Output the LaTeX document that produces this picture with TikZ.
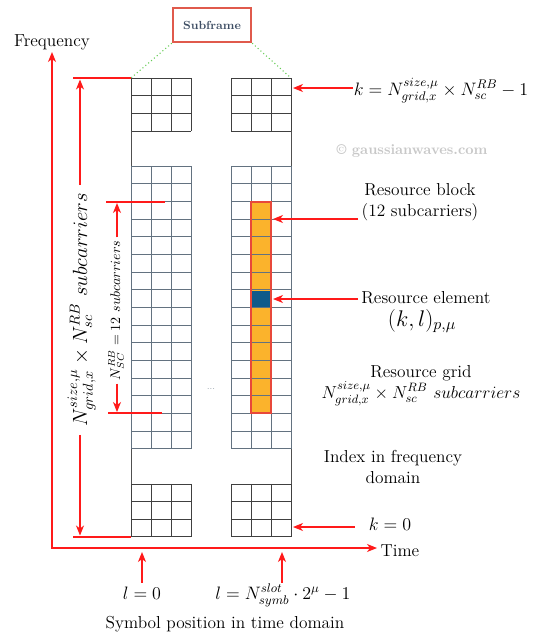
\RequirePackage{fix-cm}
\documentclass[tikz,border=0pt]{standalone}
\usepackage{amsmath}
\usetikzlibrary{arrows.meta}
\definecolor{gridA}{HTML}{404040}
\definecolor{gridB}{HTML}{637280}
\definecolor{gapc}{HTML}{505050}
\definecolor{redc}{HTML}{FF1A1A}
\definecolor{orangeRB}{HTML}{FBB32C}
\definecolor{redRB}{HTML}{E8483A}
\definecolor{blueRE}{HTML}{0F5A8A}
\definecolor{sfred}{HTML}{E05A4C}
\definecolor{sftext}{HTML}{3E4E64}
\definecolor{greendot}{HTML}{66CC55}
\definecolor{wm}{HTML}{C8C8C8}
\begin{document}
\begin{tikzpicture}[x=0.75pt,y=-0.75pt,
  txt/.style={font=\fontsize{13}{15.75}\selectfont, inner sep=1pt},
  mth/.style={font=\fontsize{13.5}{16}\selectfont, inner sep=0.5pt},
  redline/.style={draw=redc, line width=0.9pt},
  redarr/.style={draw=redc, line width=0.9pt, -{Stealth[length=7.5pt,width=6pt,inset=2.2pt]}},
  gapline/.style={draw=gapc, line width=0.7pt},
]
\fill[white] (0,0) rectangle (536,636);
\useasboundingbox (0,0) rectangle (536,636);

% ---------- resource block fill ----------
\fill[orangeRB] (251,{78+7*17.65}) rectangle (271,{78+19*17.65});

% ---------- grids ----------
\foreach \x in {131,231}{
  \foreach \r/\n/\s in {0/3/gridA, 5/16/gridB, 23/3/gridA}{
    \foreach \i in {0,...,\n}
      \draw[draw=\s, line width=0.65pt] (\x,{78+(\r+\i)*17.65}) -- ({\x+60},{78+(\r+\i)*17.65});
    \foreach \j in {0,1,2,3}
      \draw[draw=\s, line width=0.65pt] ({\x+20*\j},{78+\r*17.65}) -- ({\x+20*\j},{78+(\r+\n)*17.65});
  }
}
\foreach \x in {131,291}{
  \draw[gapline] (\x,{78+3*17.65}) -- (\x,{78+5*17.65});
  \draw[gapline] (\x,{78+21*17.65}) -- (\x,{78+23*17.65});
}
% resource element and block border
\fill[blueRE] (251.8,{78+12*17.65+0.8}) rectangle (270.2,{78+13*17.65-0.8});
\draw[draw=redRB, line width=1.5pt] (251,{78+7*17.65}) rectangle (271,{78+19*17.65});
\node[font=\fontsize{6.5}{7}\selectfont, text=gridB, inner sep=0pt] (dots) at (211,389) {...};

% ---------- subframe ----------
\node[draw=sfred, line width=1.8pt, fill=white, minimum width=58.5pt, minimum height=25.5pt,
      text=sftext, font=\bfseries\fontsize{8.8}{10}\selectfont] (sf) at (212,25) {Subframe};
\coordinate (gl) at (131,78);
\coordinate (gr) at (291,78);
\draw[greendot, dotted, line width=0.8pt] (sf.south west) -- (gl);
\draw[greendot, dotted, line width=0.8pt] (sf.south east) -- (gr);

% ---------- axes ----------
\coordinate (O) at (52,548);
\coordinate (ftop) at (52,52);
\coordinate (tend) at (377,548);
\draw[draw=redc, line width=0.9pt, {Stealth[length=7.5pt,width=6pt,inset=2.2pt]}-{Stealth[length=7.5pt,width=6pt,inset=2.2pt]}] (ftop) -- (O) -- (tend);
\node[txt, anchor=base] (freq) at (52,46.5) {Frequency};
\node[txt, anchor=base west] (time) at (379,556) {Time};

% ---------- left dimension ----------
\coordinate (d1a) at (73,78);
\coordinate (d1b) at (73,537);
\coordinate (d1c) at (131,537);
\draw[redline] (d1a) -- (gl);
\draw[redline] (d1b) -- (d1c);
\coordinate (bt) at (80,79.5);
\coordinate (bb) at (80,535.5);
\node[rotate=90, anchor=base, font=\fontsize{15.4}{18}\selectfont, inner sep=6pt] (bigl) at (87,310)
  {$N^{size,\mu}_{grid,x}\times N^{RB}_{sc}\ subcarriers$};
\draw[redarr] (bt |- bigl.east) -- (bt);
\draw[redarr] (bb |- bigl.west) -- (bb);

% ---------- inner dimension ----------
\coordinate (d2a) at (106,202);
\coordinate (d2ae) at (165,202);
\coordinate (d2b) at (108,413);
\coordinate (d2be) at (162,413);
\draw[redline] (d2a) -- (d2ae);
\draw[redline] (d2b) -- (d2be);
\coordinate (st) at (117,203);
\coordinate (sb) at (117,412);
\node[rotate=90, anchor=base, font=\fontsize{10.5}{12}\selectfont, inner sep=2pt] (smal) at (120,310.5)
  {$N^{RB}_{SC}=12\ subcarriers$};
\draw[redarr] (st |- smal.east) -- (st);
\draw[redarr] (sb |- smal.west) -- (sb);

% ---------- top index ----------
\coordinate (kt) at (293,88);
\node[mth, anchor=base west] (ktop) at (353,95) {$k=N^{size,\mu}_{grid,x}\times N^{RB}_{sc}-1$};
\draw[redarr] (ktop.west |- kt) -- (kt);

% ---------- watermark ----------
\node[font=\bfseries\fontsize{10.8}{12}\selectfont, text=wm, anchor=base, inner sep=0.5pt] (wmk) at (412,154) {© gaussianwaves.com};

% ---------- resource block ----------
\coordinate (rbt) at (273,219);
\node[txt, align=center, anchor=base] (rb) at (420,216) {Resource block\\(12 subcarriers)};
\draw[redarr, shorten <=1.5pt] (rb.west |- rbt) -- (rbt);

% ---------- resource element ----------
\coordinate (ret) at (273,299);
\node[txt, anchor=base] (re) at (426,303) {Resource element};
\node[font=\fontsize{17}{20}\selectfont, anchor=base, inner sep=0.5pt] (kl) at (422,326) {$(k,l)_{p,\mu}$};
\draw[redarr, shorten <=1.5pt] (re.west |- ret) -- (ret);

% ---------- resource grid ----------
\node[txt, anchor=base] (rg) at (421,377) {Resource grid};
\node[txt, anchor=base, inner sep=0pt] (rgf) at (421,398) {$N^{size,\mu}_{grid,x}\times N^{RB}_{sc}\ subcarriers$};

% ---------- index in frequency domain ----------
\node[txt, align=center, anchor=base] (idx) at (393,483.5) {Index in frequency\\domain};
\node[mth, anchor=base] (k0) at (390,530) {$k=0$};
\coordinate (k0t) at (293,527);
\draw[redarr, shorten <=10pt] (k0.west |- k0t) -- (k0t);

% ---------- time indices ----------
\node[mth, anchor=base] (l0) at (142,599) {$l=0$};
\node[mth, anchor=base] (lN) at (283,599) {$l=N^{slot}_{symb}\cdot 2^{\mu}-1$};
\coordinate (l0t) at (142,552);
\coordinate (lNt) at (282,552);
\draw[redarr] (l0t |- lN.north) -- (l0t);
\draw[redarr] (lNt |- lN.north) -- (lNt);
\node[txt, anchor=base] (sym) at (225,628) {Symbol position in time domain};
\end{tikzpicture}
\end{document}
